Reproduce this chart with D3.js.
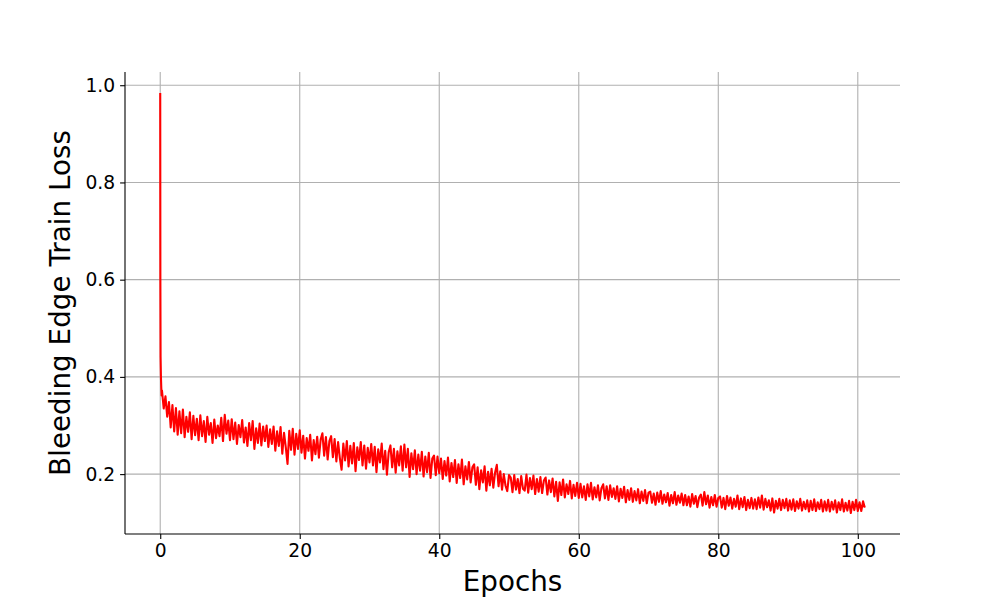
<!DOCTYPE html>
<html>
<head>
<meta charset="utf-8">
<script src="https://cdn.jsdelivr.net/npm/d3@7"></script>
<style>
  html, body { margin: 0; padding: 0; background: #fff; }
  svg { display: block; font-family: "DejaVu Sans", sans-serif; }
</style>
</head>
<body>
<svg id="chart" width="1000" height="600"></svg>
<script>
// ---- data ----
const xLabel = "Epochs";
const yLabel = "Bleeding Edge Train Loss";
const xTicks = [0, 20, 40, 60, 80, 100];
const yTicks = [0.2, 0.4, 0.6, 0.8, 1.0];

// first few steps (explicit epochs)
const headEpochs = [0, 0.02, 0.05, 0.1, 0.15, 0.2];
const headLoss = [0.984, 0.600, 0.441, 0.400, 0.378, 0.362];

// remaining steps, every 0.25 epoch starting at 0.25
const bodyStart = 0.25;
const bodyStep = 0.25;
const bodyLoss = [
  0.372, 0.335, 0.360, 0.318, 0.348, 0.296, 0.342, 0.288, 0.336, 0.281, 0.329, 0.284, 0.333, 0.276, 0.318, 0.287, 0.327, 0.272, 0.320, 0.280,
  0.314, 0.270, 0.321, 0.278, 0.309, 0.266, 0.318, 0.281, 0.305, 0.264, 0.312, 0.274, 0.300, 0.278, 0.316, 0.268, 0.322, 0.283, 0.310, 0.270,
  0.313, 0.272, 0.306, 0.262, 0.301, 0.276, 0.311, 0.265, 0.296, 0.258, 0.305, 0.270, 0.309, 0.252, 0.294, 0.264, 0.304, 0.259, 0.298, 0.268,
  0.300, 0.256, 0.292, 0.262, 0.298, 0.248, 0.288, 0.258, 0.297, 0.242, 0.285, 0.255, 0.221, 0.289, 0.250, 0.293, 0.240, 0.283, 0.252, 0.290,
  0.244, 0.279, 0.232, 0.274, 0.248, 0.281, 0.228, 0.270, 0.241, 0.277, 0.234, 0.271, 0.284, 0.238, 0.276, 0.230, 0.268, 0.278, 0.235, 0.272,
  0.226, 0.266, 0.233, 0.209, 0.263, 0.228, 0.268, 0.216, 0.258, 0.222, 0.264, 0.206, 0.255, 0.229, 0.266, 0.218, 0.259, 0.211, 0.254, 0.224,
  0.262, 0.218, 0.256, 0.204, 0.251, 0.224, 0.263, 0.210, 0.248, 0.199, 0.245, 0.259, 0.214, 0.252, 0.203, 0.247, 0.218, 0.257, 0.207, 0.261,
  0.214, 0.252, 0.194, 0.243, 0.210, 0.249, 0.200, 0.240, 0.207, 0.246, 0.195, 0.236, 0.204, 0.244, 0.192, 0.232, 0.238, 0.198, 0.236, 0.202,
  0.232, 0.190, 0.227, 0.197, 0.234, 0.185, 0.223, 0.194, 0.229, 0.182, 0.220, 0.192, 0.230, 0.179, 0.216, 0.189, 0.225, 0.183, 0.214, 0.220,
  0.178, 0.214, 0.169, 0.208, 0.183, 0.216, 0.166, 0.205, 0.177, 0.211, 0.172, 0.203, 0.219, 0.175, 0.206, 0.168, 0.200, 0.176, 0.165, 0.198,
  0.193, 0.163, 0.198, 0.168, 0.190, 0.161, 0.196, 0.170, 0.166, 0.199, 0.162, 0.192, 0.169, 0.197, 0.159, 0.190, 0.164, 0.194, 0.161, 0.187,
  0.193, 0.158, 0.187, 0.163, 0.191, 0.154, 0.184, 0.145, 0.183, 0.157, 0.189, 0.152, 0.179, 0.159, 0.186, 0.150, 0.178, 0.155, 0.182, 0.151,
  0.180, 0.152, 0.175, 0.147, 0.179, 0.154, 0.182, 0.148, 0.173, 0.152, 0.177, 0.146, 0.171, 0.179, 0.150, 0.175, 0.147, 0.177, 0.153, 0.171,
  0.149, 0.175, 0.144, 0.170, 0.151, 0.174, 0.142, 0.167, 0.147, 0.171, 0.143, 0.165, 0.146, 0.169, 0.140, 0.164, 0.145, 0.167, 0.140, 0.162,
  0.164, 0.141, 0.160, 0.137, 0.162, 0.143, 0.165, 0.139, 0.158, 0.142, 0.161, 0.135, 0.157, 0.140, 0.163, 0.137, 0.156, 0.141, 0.160, 0.136,
  0.157, 0.136, 0.154, 0.133, 0.159, 0.139, 0.155, 0.132, 0.152, 0.158, 0.135, 0.163, 0.138, 0.156, 0.131, 0.153, 0.136, 0.157, 0.133, 0.151,
  0.154, 0.131, 0.151, 0.128, 0.155, 0.135, 0.152, 0.129, 0.149, 0.133, 0.156, 0.128, 0.150, 0.132, 0.153, 0.126, 0.147, 0.130, 0.151, 0.129,
  0.148, 0.128, 0.152, 0.131, 0.156, 0.127, 0.149, 0.132, 0.146, 0.125, 0.150, 0.121, 0.145, 0.129, 0.149, 0.126, 0.147, 0.130, 0.149, 0.125,
  0.146, 0.127, 0.148, 0.124, 0.144, 0.129, 0.149, 0.125, 0.143, 0.128, 0.146, 0.123, 0.145, 0.126, 0.148, 0.124, 0.142, 0.128, 0.147, 0.123,
  0.144, 0.125, 0.147, 0.123, 0.143, 0.127, 0.146, 0.121, 0.142, 0.126, 0.148, 0.123, 0.141, 0.125, 0.145, 0.120, 0.143, 0.126, 0.147, 0.124,
  0.142, 0.124, 0.144, 0.131
];

(function () {
  // ---- build table ----
  const data = headEpochs.map((e, i) => ({ x: e, y: headLoss[i] }))
    .concat(bodyLoss.map((v, i) => ({ x: bodyStart + i * bodyStep, y: v })));

  // ---- layout ----
  const mL = 125, mR = 900, mT = 72, mB = 534;

  const xMin = d3.min(data, d => d.x), xMax = d3.max(data, d => d.x);
  const yMin = d3.min(data, d => d.y), yMax = d3.max(data, d => d.y);
  const xPad = (xMax - xMin) * 0.05, yPad = (yMax - yMin) * 0.05;

  const x = d3.scaleLinear().domain([xMin - xPad, xMax + xPad]).range([mL, mR]);
  const y = d3.scaleLinear().domain([yMin - yPad, yMax + yPad]).range([mB, mT]);

  const svg = d3.select("#chart");

  // grid
  const grid = svg.append("g");
  grid.selectAll("line.vx").data(xTicks).enter().append("line").attr("class", "vx")
    .attr("x1", d => x(d)).attr("x2", d => x(d))
    .attr("y1", mT).attr("y2", mB)
    .attr("stroke", "#b0b0b0").attr("stroke-width", 1.1);
  grid.selectAll("line.hy").data(yTicks).enter().append("line").attr("class", "hy")
    .attr("x1", mL).attr("x2", mR)
    .attr("y1", d => y(d)).attr("y2", d => y(d))
    .attr("stroke", "#b0b0b0").attr("stroke-width", 1.1);

  // line
  const line = d3.line().x(d => x(d.x)).y(d => y(d.y));
  svg.append("path").datum(data)
    .attr("d", line)
    .attr("fill", "none")
    .attr("stroke", "#ff0000")
    .attr("stroke-width", 2.1)
    .attr("stroke-linejoin", "round");

  // axes
  const xAxis = d3.axisBottom(x).tickValues(xTicks).tickFormat(d3.format("d"))
    .tickSize(4.9).tickPadding(4.9).tickSizeOuter(0);
  const yAxis = d3.axisLeft(y).tickValues(yTicks).tickFormat(d3.format(".1f"))
    .tickSize(4.9).tickPadding(4.9).tickSizeOuter(0);

  const gx = svg.append("g").attr("transform", `translate(0,${mB})`).call(xAxis);
  const gy = svg.append("g").attr("transform", `translate(${mL},0)`).call(yAxis);

  gx.select(".domain").attr("d", `M${mL},0H${mR}`);
  gy.select(".domain").attr("d", `M0,${mT}V${mB}`);
  [gx, gy].forEach(g => {
    g.select(".domain").attr("stroke", "#000").attr("stroke-width", 1.1);
    g.selectAll(".tick line").attr("stroke", "#000").attr("stroke-width", 1.1);
    g.selectAll(".tick text").attr("fill", "#000")
      .style("font-family", "'DejaVu Sans', sans-serif").style("font-size", "18.7px");
  });

  // labels
  svg.append("text")
    .attr("x", (mL + mR) / 2).attr("y", 591)
    .attr("text-anchor", "middle")
    .style("font-family", "'DejaVu Sans', sans-serif").style("font-size", "27.8px")
    .text(xLabel);

  svg.append("text")
    .attr("transform", `translate(70,${(mT + mB) / 2}) rotate(-90)`)
    .attr("text-anchor", "middle")
    .style("font-family", "'DejaVu Sans', sans-serif").style("font-size", "27.8px")
    .text(yLabel);
})();
</script>
</body>
</html>
